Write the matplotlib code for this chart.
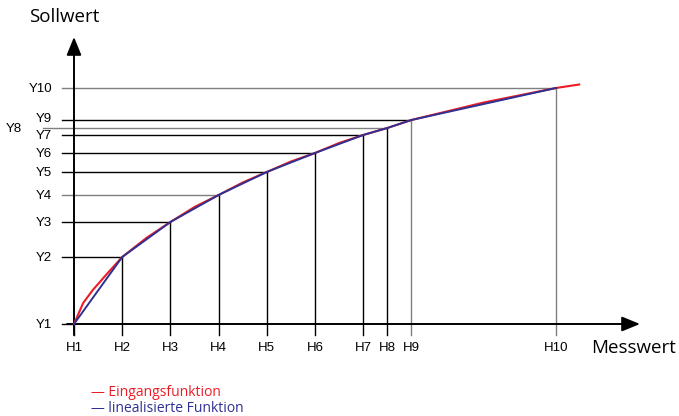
import matplotlib
matplotlib.use("Agg")
import matplotlib.pyplot as plt

# Stuetzpunkte der Linearisierung (Messwert H, Sollwert Y)
h_labels = ["H1", "H2", "H3", "H4", "H5", "H6", "H7", "H8", "H9", "H10"]
y_labels = ["Y1", "Y2", "Y3", "Y4", "Y5", "Y6", "Y7", "Y8", "Y9", "Y10"]
h_values = [0, 1, 2, 3, 4, 5, 6, 6.5, 7, 10]
y_values = [0, 67, 102, 129, 152, 171, 189, 196, 204, 236]

# Eingangsfunktion (gekruemmt)
curve_x = [0, 0.19, 0.39, 0.7, 1, 1.5, 2, 2.5, 3, 3.5, 4, 4.5, 5, 5.5, 6, 6.5, 7, 8.5, 10, 10.48]
curve_y = [0, 21, 34, 51, 67, 86, 102, 117, 129, 141.5, 152, 162.5, 171, 181, 189, 196, 204, 221.5, 236, 239.5]

RED = "#ed1c24"
BLUE = "#2e3192"
GREY = "#7f7f7f"

PX = 48.2  # Pixel pro H-Einheit

fig = plt.figure(figsize=(6.79, 4.16), dpi=100)
ax = fig.add_axes([0, 0, 1, 1])
ax.set_xlim(-74 / PX, (679 - 74) / PX)
ax.set_ylim(-92, 324)
ax.axis("off")

grey_h = {"Y4", "Y8", "Y10"}
grey_v = {"H9", "H10"}

# Hilfslinien
for i in range(1, len(h_values)):
    hx, yy = h_values[i], y_values[i]
    x0 = -31 / PX if y_labels[i] == "Y8" else -12 / PX
    ax.plot([x0, hx], [yy, yy], color=GREY if y_labels[i] in grey_h else "black", lw=1, zorder=1)
    ax.plot([hx, hx], [-11, yy], color=GREY if h_labels[i] in grey_v else "black", lw=1, zorder=1)

# Y1 tick und H1 tick
ax.plot([-12 / PX, 0], [0, 0], color="black", lw=1)
ax.plot([0, 0], [-11, 0], color="black", lw=1)

# Achsen mit Pfeilen
ax.annotate("", xy=(566 / PX, 0), xytext=(-7 / PX, 0),
            arrowprops=dict(arrowstyle="-|>,head_length=1.1,head_width=0.45", color="black", lw=1.4, shrinkA=0, shrinkB=0))
ax.annotate("", xy=(0, 287), xytext=(0, -11),
            arrowprops=dict(arrowstyle="-|>,head_length=1.1,head_width=0.45", color="black", lw=1.4, shrinkA=0, shrinkB=0))

# Kurven
ax.plot(curve_x, curve_y, color=RED, lw=1.5, zorder=3)
ax.plot(h_values, y_values, color=BLUE, lw=1.4, zorder=4)

# Beschriftungen
for lab, hx in zip(h_labels, h_values):
    ax.text(hx, -24, lab, ha="center", va="center", fontsize=9.5, family="Liberation Sans")
for lab, yy in zip(y_labels, y_values):
    if lab == "Y8":
        ax.text(-52 / PX, yy - 1, lab, ha="right", va="center", fontsize=9.5, family="Liberation Sans")
    else:
        ax.text(-22 / PX, yy - 1 if lab != "Y9" else yy + 1, lab, ha="right", va="center",
                fontsize=9.5, family="Liberation Sans")

ax.text(-45 / PX, 307, "Sollwert", ha="left", va="center", fontsize=13.5, family="Open Sans")
ax.text(517 / PX, -24, "Messwert", ha="left", va="center", fontsize=13.5, family="Open Sans")

ax.text(17 / PX, -69, "— Eingangsfunktion", ha="left", va="center", fontsize=10, color=RED, family="Open Sans")
ax.text(17 / PX, -85, "— linealisierte Funktion", ha="left", va="center", fontsize=10, color=BLUE, family="Open Sans")

fig.savefig("out.png", dpi=100)
